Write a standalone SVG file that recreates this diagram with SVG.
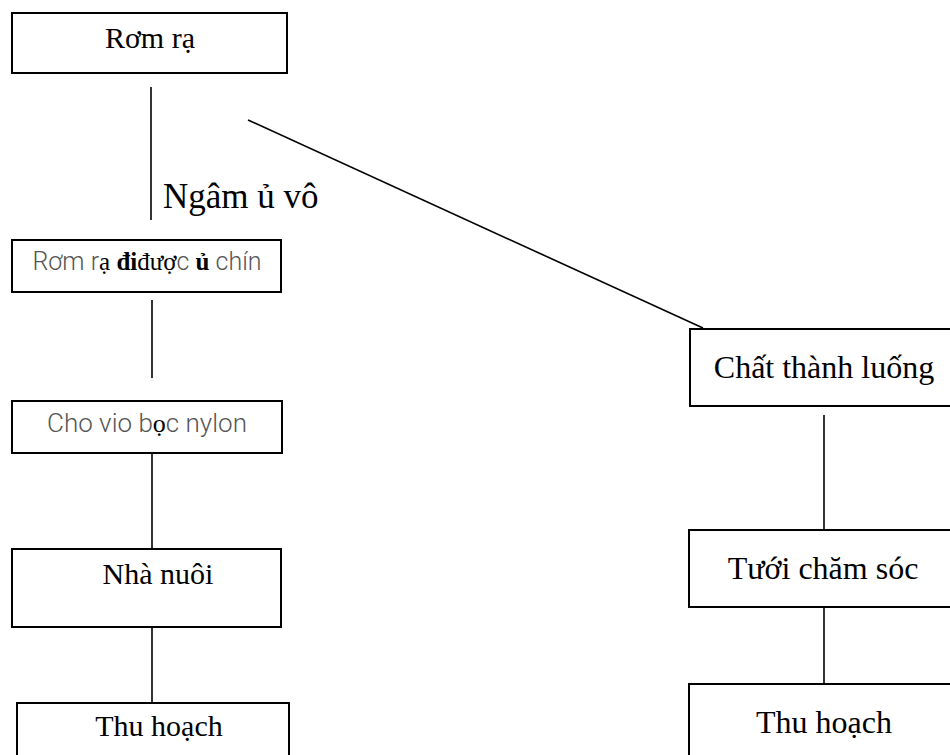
<svg xmlns="http://www.w3.org/2000/svg" width="950" height="755" viewBox="0 0 950 755">
<style>
.box{fill:#fff;stroke:#000;stroke-width:2}
.ln{stroke:#000;stroke-width:1.6;fill:none}
.serif{font-family:"Liberation Serif","Times New Roman",serif;font-size:30px;fill:#000}
.big{font-size:32px}
.sans{font-family:Roboto,"Liberation Sans",sans-serif;font-weight:300;fill:#555}
.bs{font-family:"Liberation Serif","Times New Roman",serif;fill:#000}
</style>
<rect width="950" height="755" fill="#fff"/>
<g id="connectors">
<line class="ln" x1="151" y1="87" x2="151" y2="220"/>
<line class="ln" x1="248" y1="120" x2="703" y2="328"/>
<line class="ln" x1="152" y1="300" x2="152" y2="378"/>
<line class="ln" x1="152" y1="453" x2="152" y2="549"/>
<line class="ln" x1="152" y1="627" x2="152" y2="703"/>
<line class="ln" x1="824" y1="415" x2="824" y2="530"/>
<line class="ln" x1="824" y1="607" x2="824" y2="684"/>
<text class="serif" x="163" y="208" style="font-size:35px">Ngâm ủ vô</text>
</g>
<g id="rom-ra">
<rect class="box" x="12" y="13" width="275" height="60"/>
<text class="serif" x="150" y="48" text-anchor="middle">Rơm rạ</text>
</g>
<g id="rom-ra-u-chin">
<rect class="box" x="12" y="240" width="269" height="52"/>
<text x="147" y="270" text-anchor="middle" style="font-size:25px"><tspan class="sans">Rơm r</tspan><tspan class="bs">ạ </tspan><tspan class="bs" font-weight="bold">đi</tspan><tspan class="bs">đượ</tspan><tspan class="sans">c </tspan><tspan class="bs" font-weight="bold">ủ</tspan><tspan class="sans"> chín</tspan></text>
</g>
<g id="cho-vao-boc-nylon">
<rect class="box" x="12" y="401" width="270" height="52"/>
<text x="147" y="432" text-anchor="middle" style="font-size:26px"><tspan class="sans">Cho vio b</tspan><tspan class="bs">ọ</tspan><tspan class="sans">c nylon</tspan></text>
</g>
<g id="nha-nuoi">
<rect class="box" x="12" y="549" width="269" height="78"/>
<text class="serif" x="158" y="584" text-anchor="middle">Nhà nuôi</text>
</g>
<g id="thu-hoach-left">
<rect class="box" x="17" y="703" width="272" height="70"/>
<text class="serif" x="159" y="736" text-anchor="middle">Thu hoạch</text>
</g>
<g id="chat-thanh-luong">
<rect class="box" x="690" y="329" width="280" height="77"/>
<text class="serif big" x="824" y="378" text-anchor="middle">Chất thành luống</text>
</g>
<g id="tuoi-cham-soc">
<rect class="box" x="689" y="530" width="280" height="77"/>
<text class="serif big" x="823" y="579" text-anchor="middle">Tưới chăm sóc</text>
</g>
<g id="thu-hoach-right">
<rect class="box" x="689" y="684" width="280" height="90"/>
<text class="serif big" x="824" y="733" text-anchor="middle">Thu hoạch</text>
</g>
</svg>
